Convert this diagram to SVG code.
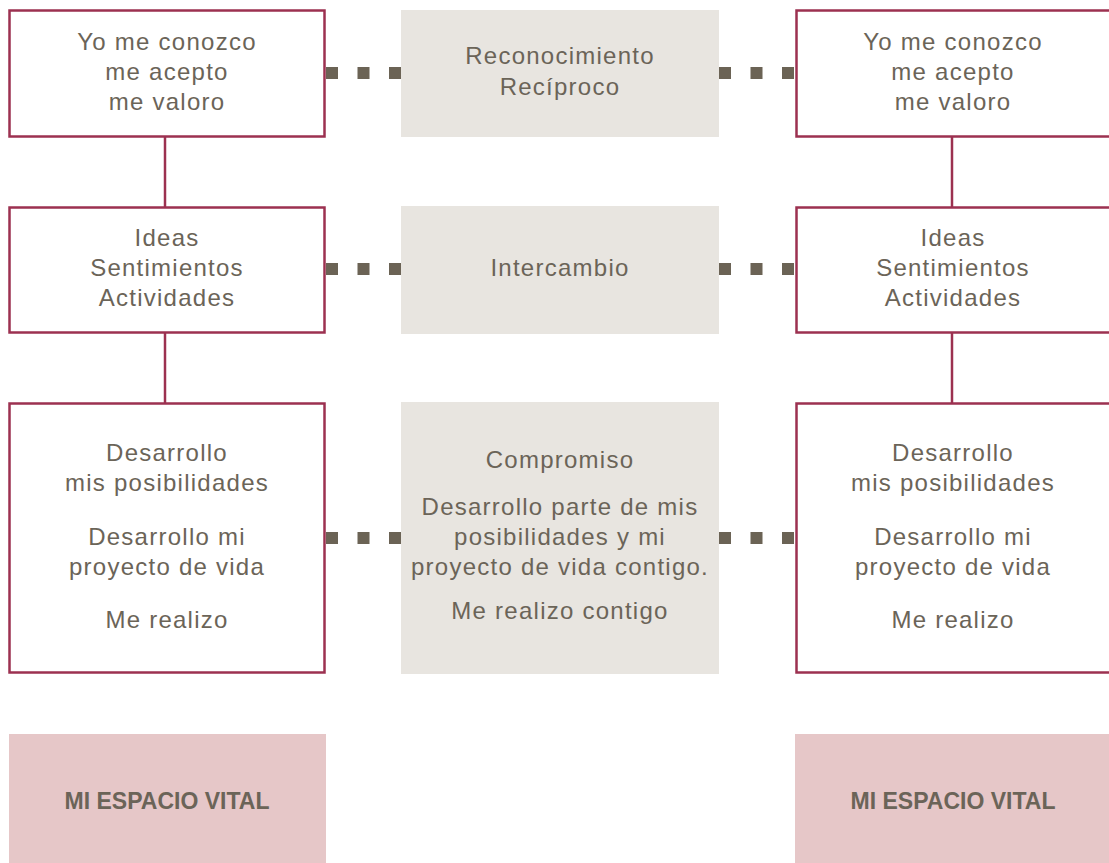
<svg xmlns="http://www.w3.org/2000/svg" width="1109" height="863" viewBox="0 0 1109 863">
<style>
.box{fill:#ffffff;stroke:#9c3150;stroke-width:2.5}
.mid{fill:#e8e5e0}
.pink{fill:#e6c7c8}
.t{font-family:"Liberation Sans",Arial,sans-serif;font-size:24px;fill:#6b6458;text-anchor:middle;letter-spacing:1.25px}
.b{font-family:"Liberation Sans",Arial,sans-serif;font-size:23px;font-weight:bold;fill:#6b6458;text-anchor:middle;letter-spacing:0px}
.dot{stroke:#6b6355;stroke-width:12;stroke-dasharray:12 19.5;fill:none}
.vl{stroke:#9c3150;stroke-width:2.5;fill:none}
</style>
<rect width="1109" height="863" fill="#ffffff"/>
<g id="connectors">
<line class="vl" x1="165" y1="136" x2="165" y2="207"/>
<line class="vl" x1="165" y1="333" x2="165" y2="403"/>
<line class="vl" x1="952" y1="136" x2="952" y2="207"/>
<line class="vl" x1="952" y1="333" x2="952" y2="403"/>
<line class="dot" x1="326" y1="73" x2="401" y2="73"/>
<line class="dot" x1="719" y1="73" x2="796" y2="73"/>
<line class="dot" x1="326" y1="269" x2="401" y2="269"/>
<line class="dot" x1="719" y1="269" x2="796" y2="269"/>
<line class="dot" x1="326" y1="538" x2="401" y2="538"/>
<line class="dot" x1="719" y1="538" x2="796" y2="538"/>
</g>
<g id="left1">
<rect class="box" x="9.5" y="10.5" width="315" height="126"/>
<text class="t" x="167" y="50">Yo me conozco</text>
<text class="t" x="167" y="80">me acepto</text>
<text class="t" x="167" y="110">me valoro</text>
</g>
<g id="mid1">
<rect class="mid" x="401" y="10" width="318" height="127"/>
<text class="t" x="560" y="64">Reconocimiento</text>
<text class="t" x="560" y="95">Recíproco</text>
</g>
<g id="right1">
<rect class="box" x="796.5" y="10.5" width="315" height="126"/>
<text class="t" x="953" y="50">Yo me conozco</text>
<text class="t" x="953" y="80">me acepto</text>
<text class="t" x="953" y="110">me valoro</text>
</g>
<g id="left2">
<rect class="box" x="9.5" y="207.5" width="315" height="125"/>
<text class="t" x="167" y="246">Ideas</text>
<text class="t" x="167" y="276">Sentimientos</text>
<text class="t" x="167" y="306">Actividades</text>
</g>
<g id="mid2">
<rect class="mid" x="401" y="206" width="318" height="128"/>
<text class="t" x="560" y="276">Intercambio</text>
</g>
<g id="right2">
<rect class="box" x="796.5" y="207.5" width="315" height="125"/>
<text class="t" x="953" y="246">Ideas</text>
<text class="t" x="953" y="276">Sentimientos</text>
<text class="t" x="953" y="306">Actividades</text>
</g>
<g id="left3">
<rect class="box" x="9.5" y="403.5" width="315" height="269"/>
<text class="t" x="167" y="461">Desarrollo</text>
<text class="t" x="167" y="491">mis posibilidades</text>
<text class="t" x="167" y="545">Desarrollo mi</text>
<text class="t" x="167" y="575">proyecto de vida</text>
<text class="t" x="167" y="628">Me realizo</text>
</g>
<g id="mid3">
<rect class="mid" x="401" y="402" width="318" height="272"/>
<text class="t" x="560" y="468">Compromiso</text>
<text class="t" x="560" y="515">Desarrollo parte de mis</text>
<text class="t" x="560" y="545">posibilidades y mi</text>
<text class="t" x="560" y="575">proyecto de vida contigo.</text>
<text class="t" x="560" y="619">Me realizo contigo</text>
</g>
<g id="right3">
<rect class="box" x="796.5" y="403.5" width="315" height="269"/>
<text class="t" x="953" y="461">Desarrollo</text>
<text class="t" x="953" y="491">mis posibilidades</text>
<text class="t" x="953" y="545">Desarrollo mi</text>
<text class="t" x="953" y="575">proyecto de vida</text>
<text class="t" x="953" y="628">Me realizo</text>
</g>
<g id="left4">
<rect class="pink" x="9" y="734" width="317" height="129"/>
<text class="b" x="167" y="809">MI ESPACIO VITAL</text>
</g>
<g id="right4">
<rect class="pink" x="795" y="734" width="314" height="129"/>
<text class="b" x="953" y="809">MI ESPACIO VITAL</text>
</g>
</svg>
